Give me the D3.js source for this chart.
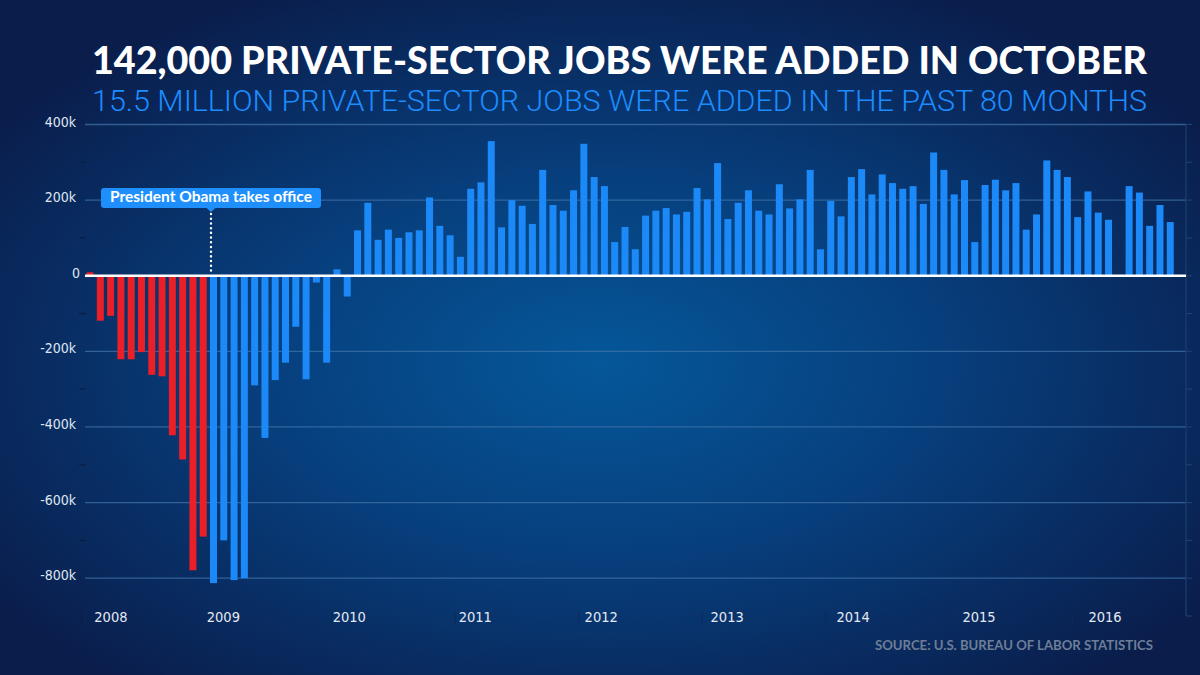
<!DOCTYPE html>
<html>
<head>
<meta charset="utf-8">
<script src="https://cdn.jsdelivr.net/npm/d3@7"></script>
<style>
  html, body { margin: 0; padding: 0; background: #0a2152; }
  svg { display: block; }
</style>
</head>
<body>
<script>
// monthly private-sector job change, thousands, Jan 2008 - Oct 2016
var jobs2008 = [9, -119, -106, -221, -221, -202, -262, -266, -422, -486, -779, -690];
var jobs2009 = [-813, -700, -805, -800, -290, -429, -276, -230, -135, -274, -18, -230];
var jobs2010 = [17, -55, 120, 193, 95, 122, 100, 115, 120, 207, 132, 107];
var jobs2011 = [50, 230, 247, 356, 128, 200, 185, 137, 280, 187, 172, 226];
var jobs2012 = [349, 261, 237, 89, 129, 70, 159, 172, 179, 162, 169, 232];
var jobs2013 = [202, 298, 150, 193, 226, 172, 162, 242, 178, 202, 280, 70];
var jobs2014 = [198, 157, 261, 282, 215, 268, 245, 230, 237, 190, 326, 280];
var jobs2015 = [215, 253, 89, 240, 254, 226, 245, 122, 162, 305, 280, 261];
var jobs2016 = [155, 223, 167, 148, 0, 237, 220, 132, 187, 142];

var years = [2008, 2009, 2010, 2011, 2012, 2013, 2014, 2015, 2016];
var yTicks = [400, 200, 0, -200, -400, -600, -800];
var obamaStart = 2009; // first month of the new administration: January 2009

var title = "142,000 PRIVATE-SECTOR JOBS WERE ADDED IN OCTOBER";
var subtitle = "15.5 MILLION PRIVATE-SECTOR JOBS WERE ADDED IN THE PAST 80 MONTHS";
var noteText = "President Obama takes office";
var sourceText = "SOURCE: U.S. BUREAU OF LABOR STATISTICS";

var allYears = [jobs2008, jobs2009, jobs2010, jobs2011, jobs2012, jobs2013, jobs2014, jobs2015, jobs2016];
var months = [];
allYears.forEach(function (arr, yi) {
  arr.forEach(function (v, m) {
    months.push({ year: years[yi], month: m, value: v });
  });
});

var width = 1200,
  height = 675;

var svg = d3.select('body')
  .append('svg')
  .attr('width', width)
  .attr('height', height);

var defs = svg.append('defs');
var grad = defs.append('radialGradient')
  .attr('id', 'bg')
  .attr('cx', '50%').attr('cy', '54%').attr('r', '62%');
grad.append('stop').attr('offset', '0%').attr('stop-color', '#055799');
grad.append('stop').attr('offset', '45%').attr('stop-color', '#073f7d');
grad.append('stop').attr('offset', '100%').attr('stop-color', '#0a1d4b');

svg.append('rect')
  .attr('width', width)
  .attr('height', height)
  .attr('fill', 'url(#bg)');

// titles
svg.append('text')
  .attr('x', 92)
  .attr('y', 74)
  .attr('textLength', 1055)
  .attr('lengthAdjust', 'spacingAndGlyphs')
  .style('font-family', 'Lato, "Open Sans", sans-serif')
  .style('font-weight', 900)
  .style('font-size', '38px')
  .style('fill', '#ffffff')
  .text(title);

svg.append('text')
  .attr('x', 92)
  .attr('y', 111)
  .attr('textLength', 1055)
  .attr('lengthAdjust', 'spacingAndGlyphs')
  .style('font-family', 'Roboto, "Noto Sans", sans-serif')
  .style('font-weight', 300)
  .style('font-size', '29px')
  .style('fill', '#1c8cff')
  .text(subtitle);

var x = d3.scaleBand()
  .domain(d3.range(months.length))
  .range([84.9, 1175.4])
  .paddingInner(0.32)
  .paddingOuter(0.16);

var y = d3.scaleLinear()
  .domain([-900, 400])
  .range([616, 124.5]);

var plotLeft = 85,
  plotRight = 1186;

var condensed = '"Liberation Sans Narrow", "DejaVu Sans Condensed", Roboto, sans-serif';

// gridlines
svg.append('g')
  .selectAll('line')
  .data(yTicks.filter(function (d) { return d !== 0; }))
  .enter()
  .append('line')
  .attr('x1', plotLeft)
  .attr('x2', plotRight)
  .attr('y1', function (d) { return y(d); })
  .attr('y2', function (d) { return y(d); })
  .attr('stroke', '#3f73a8')
  .attr('stroke-opacity', 0.75)
  .attr('stroke-width', 1.3);

// minor dashes on the left and right axis
var minor = d3.range(-900, 401, 100);
svg.append('g')
  .selectAll('line')
  .data(minor.filter(function (d) { return d % 200 !== 0; }))
  .enter()
  .append('line')
  .attr('x1', 79)
  .attr('x2', 86)
  .attr('y1', function (d) { return y(d); })
  .attr('y2', function (d) { return y(d); })
  .attr('stroke', '#0b1d45')
  .attr('stroke-width', 1.2);

svg.append('line')
  .attr('x1', plotRight).attr('x2', plotRight)
  .attr('y1', y(400)).attr('y2', y(-900))
  .attr('stroke', '#1c3f6f')
  .attr('stroke-width', 1.2);

svg.append('g')
  .selectAll('line')
  .data(minor)
  .enter()
  .append('line')
  .attr('x1', plotRight)
  .attr('x2', plotRight + 6)
  .attr('y1', function (d) { return y(d); })
  .attr('y2', function (d) { return y(d); })
  .attr('stroke', '#1c3f6f')
  .attr('stroke-width', 1.2);

// y labels
svg.append('g')
  .selectAll('text')
  .data(yTicks)
  .enter()
  .append('text')
  .attr('x', function (d) { return d === 0 ? 80 : 76; })
  .attr('y', function (d) { return y(d) - 2; })
  .attr('text-anchor', 'end')
  .attr('dominant-baseline', 'middle')
  .style('font-family', condensed)
  .style('font-size', '14px')
  .style('fill', '#dfe6f1')
  .text(function (d) { return d === 0 ? '0' : d + 'k'; });

// bars
svg.append('g')
  .selectAll('rect')
  .data(months)
  .enter()
  .append('rect')
  .attr('x', function (d, i) { return x(i); })
  .attr('y', function (d) { return y(Math.max(0, d.value)); })
  .attr('width', x.bandwidth())
  .attr('height', function (d) { return Math.abs(y(d.value) - y(0)); })
  .attr('fill', function (d) { return d.year < obamaStart ? '#ea1f28' : '#1b89f7'; });

// zero line
svg.append('line')
  .attr('x1', plotLeft)
  .attr('x2', plotRight)
  .attr('y1', y(0))
  .attr('y2', y(0))
  .attr('stroke', '#ffffff')
  .attr('stroke-width', 2.5);

// x axis: small ticks at January and year labels
var janIndex = function (yr) { return (yr - years[0]) * 12; };
var step = x.step();

svg.append('g')
  .selectAll('line')
  .data(years)
  .enter()
  .append('line')
  .attr('x1', function (d) { return x(janIndex(d)) - step * 0.16; })
  .attr('x2', function (d) { return x(janIndex(d)) - step * 0.16; })
  .attr('y1', 612)
  .attr('y2', 623)
  .attr('stroke', '#0e2a58')
  .attr('stroke-width', 1);

svg.append('g')
  .selectAll('text')
  .data(years)
  .enter()
  .append('text')
  .attr('x', function (d) {
    var off = d === 2008 ? 26 : 15 + 2.5 * (d - 2009);
    return x(janIndex(d)) - step * 0.16 + off;
  })
  .attr('y', 618)
  .attr('text-anchor', 'middle')
  .attr('dominant-baseline', 'middle')
  .style('font-family', condensed)
  .style('font-size', '14.5px')
  .style('fill', '#e3e9f3')
  .text(function (d) { return d; });

// annotation
var noteX = x(janIndex(obamaStart)) + 1;
var note = svg.append('g');

note.append('line')
  .attr('x1', noteX).attr('x2', noteX)
  .attr('y1', 214).attr('y2', y(0) - 3)
  .attr('stroke', '#ffffff')
  .attr('stroke-width', 2.4)
  .attr('stroke-linecap', 'round')
  .attr('stroke-dasharray', '0.1,4.6');

note.append('rect')
  .attr('x', noteX - 110)
  .attr('y', 188)
  .attr('width', 220)
  .attr('height', 20)
  .attr('rx', 3)
  .attr('fill', '#1e8ffc');

note.append('path')
  .attr('d', 'M' + (noteX - 5) + ',207.5 L' + noteX + ',212 L' + (noteX + 5) + ',207.5 Z')
  .attr('fill', '#1e8ffc');

note.append('text')
  .attr('x', noteX)
  .attr('y', 198.5)
  .attr('text-anchor', 'middle')
  .attr('dominant-baseline', 'middle')
  .attr('textLength', 202)
  .attr('lengthAdjust', 'spacingAndGlyphs')
  .style('font-family', 'Lato, "Open Sans", sans-serif')
  .style('font-weight', 700)
  .style('font-size', '14.5px')
  .style('fill', '#ffffff')
  .text(noteText);

// source
svg.append('text')
  .attr('x', 1153)
  .attr('y', 650)
  .attr('text-anchor', 'end')
  .attr('textLength', 278)
  .attr('lengthAdjust', 'spacingAndGlyphs')
  .style('font-family', 'Lato, "Open Sans", sans-serif')
  .style('font-weight', 700)
  .style('font-size', '13px')
  .style('fill', '#6d7e96')
  .text(sourceText);
</script>
</body>
</html>
